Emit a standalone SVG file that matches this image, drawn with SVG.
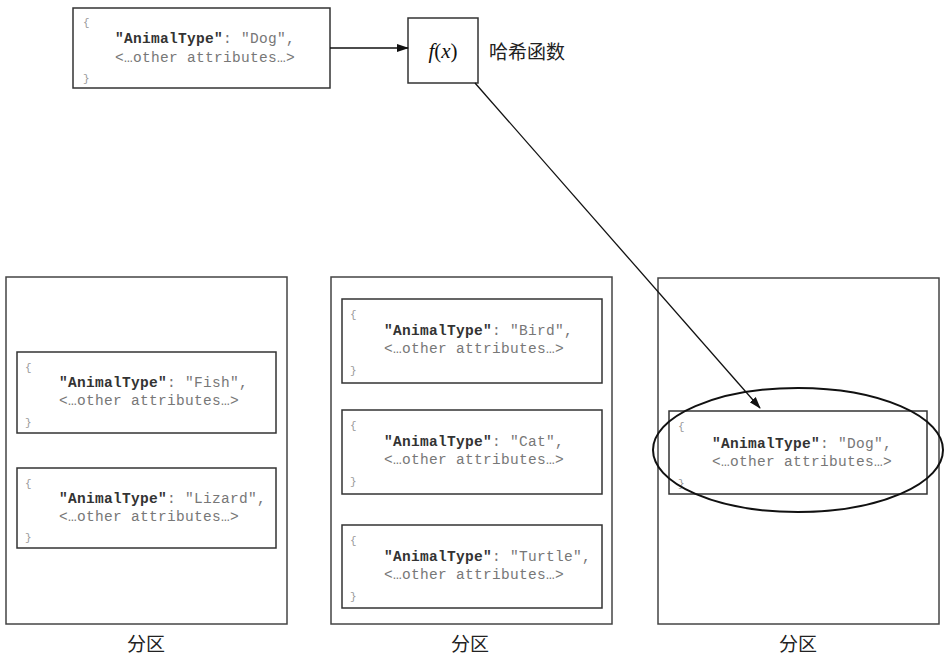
<svg xmlns="http://www.w3.org/2000/svg" width="944" height="656" viewBox="0 0 944 656">
<defs>
<style>
.box{fill:#fff;stroke:#333;stroke-width:1.5}
.part{fill:#fff;stroke:#444;stroke-width:1.5}
.code{font-family:"Liberation Mono","DejaVu Sans Mono",monospace;font-size:14.5px;fill:#777;letter-spacing:0.3px}
.b{font-weight:bold;fill:#333}
.brace{font-family:"Liberation Mono",monospace;font-size:11px;fill:#999}
.cjk{font-family:"Liberation Serif","Noto Sans CJK SC",serif;font-size:19px;fill:#222}
.conn{stroke:#111;stroke-width:1.3;fill:none}
</style>
<marker id="ah" markerWidth="12" markerHeight="10" refX="11" refY="5" orient="auto" markerUnits="userSpaceOnUse">
<path d="M0,1 L12,5 L0,9 Z" fill="#111"/>
</marker>
</defs>
<rect width="944" height="656" fill="#fff"/>

<g id="source">
<rect class="box" x="73" y="8" width="257" height="80"/>
<text class="brace" x="83" y="26">{</text>
<text class="code" x="115" y="43"><tspan class="b">"AnimalType"</tspan>: "Dog",</text>
<text class="code" x="115" y="62">&lt;…other attributes…&gt;</text>
<text class="brace" x="83" y="82">}</text>
</g>

<g id="hash">
<rect class="box" x="408" y="18" width="70" height="65"/>
<text x="443" y="58" text-anchor="middle" font-family="Liberation Serif,serif" font-size="21" fill="#111"><tspan font-style="italic">f</tspan>(<tspan font-style="italic">x</tspan>)</text>
<text class="cjk" x="489" y="59">哈希函数</text>
</g>

<g id="partition1">
<rect class="part" x="6" y="277" width="281" height="347"/>
<g id="fish">
<rect class="box" x="17" y="352" width="259" height="81"/>
<text class="brace" x="25" y="371">{</text>
<text class="code" x="59" y="387"><tspan class="b">"AnimalType"</tspan>: "Fish",</text>
<text class="code" x="59" y="405">&lt;…other attributes…&gt;</text>
<text class="brace" x="25" y="426">}</text>
</g>
<g id="lizard">
<rect class="box" x="17" y="468" width="259" height="80"/>
<text class="brace" x="25" y="487">{</text>
<text class="code" x="59" y="503"><tspan class="b">"AnimalType"</tspan>: "Lizard",</text>
<text class="code" x="59" y="521">&lt;…other attributes…&gt;</text>
<text class="brace" x="25" y="541">}</text>
</g>
<text class="cjk" x="146" y="651" text-anchor="middle">分区</text>
</g>

<g id="partition2">
<rect class="part" x="331" y="277" width="281" height="347"/>
<g id="bird">
<rect class="box" x="342" y="299" width="260" height="84"/>
<text class="brace" x="350" y="318">{</text>
<text class="code" x="384" y="335"><tspan class="b">"AnimalType"</tspan>: "Bird",</text>
<text class="code" x="384" y="353">&lt;…other attributes…&gt;</text>
<text class="brace" x="350" y="374">}</text>
</g>
<g id="cat">
<rect class="box" x="342" y="410" width="260" height="84"/>
<text class="brace" x="350" y="429">{</text>
<text class="code" x="384" y="446"><tspan class="b">"AnimalType"</tspan>: "Cat",</text>
<text class="code" x="384" y="464">&lt;…other attributes…&gt;</text>
<text class="brace" x="350" y="485">}</text>
</g>
<g id="turtle">
<rect class="box" x="342" y="525" width="260" height="83"/>
<text class="brace" x="350" y="544">{</text>
<text class="code" x="384" y="561"><tspan class="b">"AnimalType"</tspan>: "Turtle",</text>
<text class="code" x="384" y="579">&lt;…other attributes…&gt;</text>
<text class="brace" x="350" y="600">}</text>
</g>
<text class="cjk" x="470" y="651" text-anchor="middle">分区</text>
</g>

<g id="partition3">
<rect class="part" x="658" y="278" width="281" height="346"/>
<g id="dog">
<rect class="box" x="669" y="411" width="258" height="83"/>
<text class="brace" x="678" y="430">{</text>
<text class="code" x="712" y="448"><tspan class="b">"AnimalType"</tspan>: "Dog",</text>
<text class="code" x="712" y="466">&lt;…other attributes…&gt;</text>
<text class="brace" x="678" y="487">}</text>
</g>
<ellipse cx="798" cy="450" rx="145" ry="62" fill="none" stroke="#111" stroke-width="2"/>
<text class="cjk" x="798" y="651" text-anchor="middle">分区</text>
</g>

<g id="connectors">
<line class="conn" x1="330" y1="48" x2="408" y2="48" marker-end="url(#ah)"/>
<line class="conn" x1="475" y1="83" x2="760" y2="408" marker-end="url(#ah)"/>
</g>
</svg>
